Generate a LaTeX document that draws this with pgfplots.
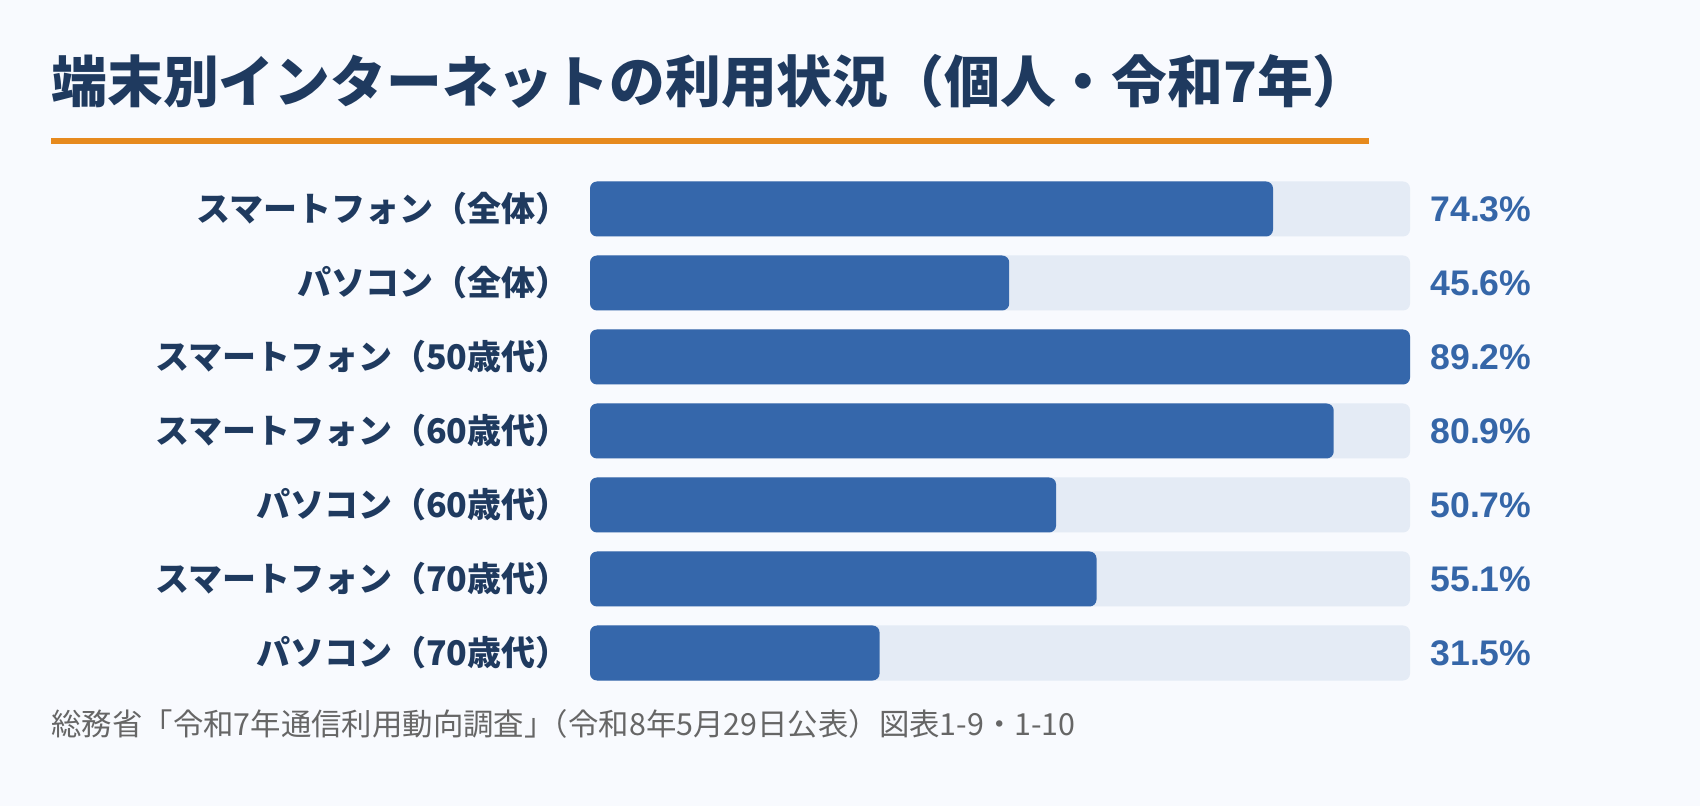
\documentclass[border=0pt]{standalone}
\usepackage{pgfplots}
\pgfplotsset{compat=1.18}
\usepackage{pgfplotstable}
\usepackage{fontspec}
\setmainfont{Liberation Sans}
\newfontfamily\jp{Noto Sans CJK JP}
\newfontfamily\lib{Liberation Sans}
\definecolor{bg}{HTML}{F8FAFE}
\definecolor{titlec}{HTML}{1F3A5F}
\definecolor{orangec}{HTML}{E68A1E}
\definecolor{barc}{HTML}{3567AB}
\definecolor{trackc}{HTML}{E4EBF5}
\definecolor{valc}{HTML}{3566A8}
\definecolor{footc}{HTML}{666666}

\pgfplotstableread{
y val full
0 74.3 89.2
1 45.6 89.2
2 89.2 89.2
3 80.9 89.2
4 50.7 89.2
5 55.1 89.2
6 31.5 89.2
}\data

\begin{document}
\begin{tikzpicture}
\fill[bg] (0,0) rectangle (850pt,403pt);
% title
\node[anchor=west, inner sep=0pt, text=titlec, font=\jp\bfseries\fontsize{27.9pt}{30pt}\selectfont] at (25.5pt,362.5pt) {端末別インターネットの利用状況（個人・令和7年）};
\fill[orangec] (25.5pt,331pt) rectangle (684.5pt,334pt);
% footer
\node[anchor=west, inner sep=0pt, text=footc, font=\jp\fontsize{15.2pt}{18pt}\selectfont] at (25.5pt,41pt) {総務省「令和7年通信利用動向調査」\kern-0.55em（令和8年5月29日公表）図表1-9・1-10};
\begin{axis}[
  at={(295pt,58pt)}, anchor=south west,
  scale only axis, width=410pt, height=259pt,
  xmin=0, xmax=89.2, ymin=-0.5, ymax=6.5,
  y dir=reverse,
  axis line style={draw=none},
  major tick length=0pt,
  xtick=\empty,
  ytick={0,...,6},
  yticklabels={スマートフォン（全体）,パソコン（全体）,スマートフォン（50歳代）,スマートフォン（60歳代）,パソコン（60歳代）,スマートフォン（70歳代）,パソコン（70歳代）},
  yticklabel style={anchor=east, inner sep=0pt, xshift=-10pt, text=titlec, font=\jp\bfseries\fontsize{17pt}{19pt}\selectfont},
  clip=false,
  enlargelimits=false,
  /pgf/number format/assume math mode=true,
]
\addplot[xbar, bar width=27.5pt, bar shift=0pt, fill=trackc, draw=none, rounded corners=3.5pt,
  point meta=explicit,
  nodes near coords={\pgfmathprintnumber[fixed,precision=1,fixed zerofill]{\pgfplotspointmeta}\%},
  nodes near coords style={anchor=west, inner sep=0pt, xshift=10pt, text=valc, font=\lib\bfseries\fontsize{17.8pt}{20pt}\selectfont}
] table[x=full, y=y, meta=val] {\data};
\addplot[xbar, bar width=27.5pt, bar shift=0pt, fill=barc, draw=none, rounded corners=3.5pt] table[x=val, y=y] {\data};
\end{axis}
\end{tikzpicture}
\end{document}
